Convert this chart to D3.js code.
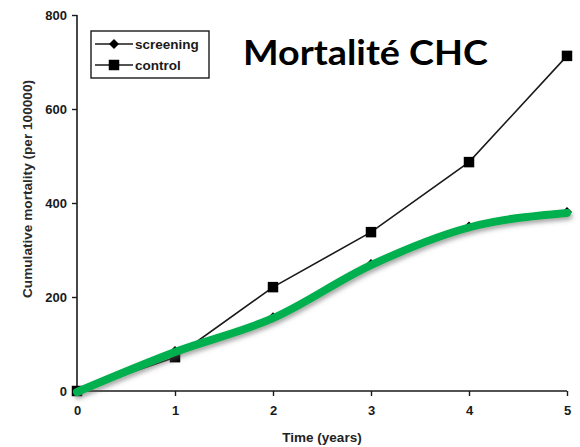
<!DOCTYPE html>
<html>
<head>
<meta charset="utf-8">
<script src="https://cdn.jsdelivr.net/npm/d3@7"></script>
<style>
  html, body { margin: 0; padding: 0; background: #fff; }
  svg { display: block; }
</style>
</head>
<body>
<svg id="chart" width="580" height="447"></svg>
<script>
// Cumulative mortality per 100000, by year of follow-up
const years = [0, 1, 2, 3, 4, 5];
const screening = [0, 85, 157, 270, 350, 381];
const control = [0, 72, 221, 338, 487, 713];
const yTicks = [0, 200, 400, 600, 800];
const seriesNames = ["screening", "control"];
const titleText = "Mortalité CHC";
const xTitle = "Time (years)";
const yTitle = "Cumulative mortality (per 100000)";

const svg = d3.select("#chart");
const ink = "#1a1a1a";
const arial = "'Liberation Sans', Arial, sans-serif";

const x = d3.scaleLinear().domain([0, 5]).range([77, 567]);
const y = d3.scaleLinear().domain([0, 800]).range([391, 15]);

// soft shadow under the highlighted curve
const defs = svg.append("defs");
const f = defs.append("filter").attr("id", "shadow")
  .attr("x", "-10%").attr("y", "-20%").attr("width", "130%").attr("height", "160%");
f.append("feDropShadow").attr("dx", 1.5).attr("dy", 3).attr("stdDeviation", 2)
  .attr("flood-color", "#555").attr("flood-opacity", 0.5);

// axes
const yAxis = d3.axisLeft(y).tickValues(yTicks).tickSize(5).tickPadding(5);
const xAxis = d3.axisBottom(x).tickValues(years).tickFormat(d3.format("d"))
  .tickSize(5).tickPadding(10);

const gy = svg.append("g").attr("transform", `translate(${x(0)},0)`).call(yAxis);
const gx = svg.append("g").attr("transform", `translate(0,${y(0)})`).call(xAxis);
[gx, gy].forEach(g => {
  g.select(".domain").attr("stroke", ink).attr("stroke-width", 1.6)
    .attr("d", g === gx ? `M${x(0)},0H${x(5)}` : `M0,${y(800)}V${y(0)}`);
  g.selectAll(".tick line").attr("stroke", ink).attr("stroke-width", 1.4);
  g.selectAll(".tick text").attr("fill", ink)
    .style("font-family", arial)
    .style("font-weight", "bold").style("font-size", "13px");
});

// axis titles
svg.append("text").attr("x", 322).attr("y", 442).attr("text-anchor", "middle")
  .style("font-family", arial)
  .style("font-weight", "bold").style("font-size", "13.5px").attr("fill", "#222")
  .text(xTitle);
svg.append("text").attr("transform", "translate(32,189) rotate(-90)")
  .attr("text-anchor", "middle")
  .style("font-family", arial).style("font-weight", "bold")
  .style("font-size", "13px").attr("fill", "#2a2a2a")
  .attr("textLength", 218).attr("lengthAdjust", "spacingAndGlyphs")
  .text(yTitle);

// series lines
const line = d3.line().x((d, i) => x(years[i])).y(d => y(d));
svg.append("path").datum(control).attr("d", line)
  .attr("fill", "none").attr("stroke", ink).attr("stroke-width", 1.6);
svg.append("path").datum(screening).attr("d", line)
  .attr("fill", "none").attr("stroke", ink).attr("stroke-width", 1.6);

// markers
const sq = d3.symbol().type(d3.symbolSquare).size(110);
const dm = "M0,-5L5,0L0,5L-5,0Z";
svg.append("g").selectAll("path").data(control).join("path")
  .attr("transform", (d, i) => `translate(${x(years[i])},${y(d)})`)
  .attr("d", sq).attr("fill", "#000");
svg.append("g").selectAll("path").data(screening).join("path")
  .attr("transform", (d, i) => `translate(${x(years[i])},${y(d)})`)
  .attr("d", dm).attr("fill", "#000");

// highlighted smooth screening curve
const smooth = d3.line().x((d, i) => x(years[i])).y(d => y(d) + 1)
  .curve(d3.curveMonotoneX);
svg.append("path").datum(screening).attr("d", smooth)
  .attr("fill", "none").attr("stroke", "#00b050").attr("stroke-width", 8)
  .attr("stroke-linecap", "round").attr("filter", "url(#shadow)");

// legend
const lg = svg.append("g");
lg.append("rect").attr("x", 91).attr("y", 31).attr("width", 118).attr("height", 47)
  .attr("fill", "#fff").attr("stroke", ink).attr("stroke-width", 1.4);
const entries = [
  { name: seriesNames[0], sym: dm, yy: 44 },
  { name: seriesNames[1], sym: sq, yy: 65 }
];
entries.forEach(e => {
  lg.append("line").attr("x1", 95).attr("x2", 133).attr("y1", e.yy).attr("y2", e.yy)
    .attr("stroke", ink).attr("stroke-width", 1.6);
  lg.append("path").attr("transform", `translate(114,${e.yy})`).attr("d", e.sym).attr("fill", "#000");
  lg.append("text").attr("x", 135).attr("y", e.yy + 5)
    .style("font-family", arial)
    .style("font-weight", "bold").style("font-size", "13.5px").attr("fill", ink)
    .text(e.name);
});

// title
svg.append("text").attr("x", 243).attr("y", 65)
  .style("font-family", "Lato, 'Open Sans', sans-serif")
  .style("font-weight", "bold").style("font-size", "34px").attr("fill", "#000")
  .attr("textLength", 245).attr("lengthAdjust", "spacingAndGlyphs")
  .text(titleText);
</script>
</body>
</html>
